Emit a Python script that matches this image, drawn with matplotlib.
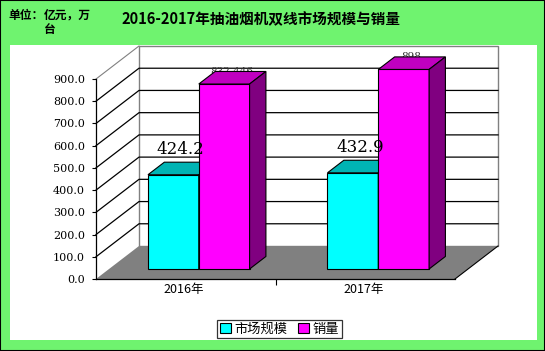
import matplotlib
matplotlib.use("Agg")
import matplotlib.pyplot as plt
from matplotlib.patches import Polygon, Rectangle, Patch

# ── DATA ─────────────────────────────────────────────────────────────────────
years = ["2016年", "2017年"]
market_size = [424.2, 432.9]
sales = [832.446, 898]
series_names = ["市场规模", "销量"]
y_ticks = [0, 100, 200, 300, 400, 500, 600, 700, 800, 900]
title = "2016-2017年抽油烟机双线市场规模与销量"

CJK = ["Noto Sans CJK SC", "DejaVu Sans"]
W, H = 545, 351


def fx(px):
    return px / W


def fy(py):
    return 1 - py / H


fig = plt.figure(figsize=(W / 100, H / 100), dpi=100)
fig.patch.set_facecolor("#6ff36f")
fig.add_artist(Rectangle((fx(10), fy(340)), fx(537) - fx(10), fy(45) - fy(340),
                         transform=fig.transFigure, fc="white", ec="none", zorder=-1))
fig.add_artist(Rectangle((0, 0), 1, 1, transform=fig.transFigure, fill=False,
                         ec="black", lw=1.5, zorder=10))

# front plane of the 3D box
ax = fig.add_axes([fx(96), fy(279), fx(455) - fx(96), fy(79) - fy(279)])
ax.set_xlim(0, 2)
ax.set_ylim(0, 900)
ax.patch.set_visible(False)

# depth offsets (data units), derived from the pixel geometry
px_x = (455 - 96) / 2.0
px_y = 200 / 900.0
DX, DY = 43 / px_x, 33 / px_y
f0 = 10 / 33          # bars start this far back into the box
bx, by = 0.38 * DX, 0.38 * DY
gap, w = 0.217, 0.283

# walls and floor
ax.add_patch(Polygon([(DX, DY), (2 + DX, DY), (2 + DX, 900 + DY), (DX, 900 + DY)],
                     fc="white", ec="#808080", lw=1, clip_on=False, zorder=0.5))
ax.add_patch(Polygon([(0, 0), (2, 0), (2 + DX, DY), (DX, DY)],
                     fc="#808080", ec="none", clip_on=False, zorder=1))
ax.plot([2, 2 + DX], [0, DY], color="black", lw=0.8, clip_on=False, zorder=1.1)
ax.plot([0, DX], [900, 900 + DY], color="#808080", lw=0.8, clip_on=False, zorder=1)
for v in y_ticks[1:-1]:
    ax.plot([0, DX, 2 + DX], [v, v + DY, v + DY], color="black", lw=0.9,
            clip_on=False, zorder=0.8)

# bars with top and side faces
series = [(market_size, "#00ffff", "#00b4b4", "#008080", 3),
          (sales, "#ff00ff", "#c000c0", "#800080", 4)]
for j, (vals, c_front, c_top, c_side, z) in enumerate(series):
    xs = [i + gap + j * w + f0 * DX for i in range(len(vals))]
    base = f0 * DY
    ax.bar(xs, vals, width=w, bottom=base, align="edge", color=c_front,
           edgecolor="black", lw=0.8, clip_on=False, zorder=z)
    for x0, v in zip(xs, vals):
        top = base + v
        ax.add_patch(Polygon([(x0, top), (x0 + w, top), (x0 + w + bx, top + by), (x0 + bx, top + by)],
                             fc=c_top, ec="black", lw=0.8, clip_on=False, zorder=z))
        ax.add_patch(Polygon([(x0 + w, base), (x0 + w + bx, base + by), (x0 + w + bx, top + by), (x0 + w, top)],
                             fc=c_side, ec="black", lw=0.8, clip_on=False, zorder=z))
        cx = x0 + w / 2 + 0.04
        if j == 0:
            ax.text(cx, top + by + 20, f"{v:.1f}", ha="center", va="bottom",
                    family="DejaVu Serif", fontsize=12, zorder=6)
        else:
            # label sits behind the bar, half hidden by its top face
            ax.text(cx, top + by, f"{v:g}", ha="center", va="center",
                    family="DejaVu Serif", fontsize=7.5, color="#333333", zorder=2)

# axes, ticks
for s in ["top", "right"]:
    ax.spines[s].set_visible(False)
ax.spines["left"].set_linewidth(0.9)
ax.spines["bottom"].set_linewidth(0.9)
ax.spines["left"].set_zorder(2)
ax.spines["bottom"].set_zorder(2)
ax.set_yticks(y_ticks)
ax.set_yticklabels([f"{v:.1f}" for v in y_ticks], family="DejaVu Serif", fontsize=8)
ax.tick_params(axis="y", length=3, width=0.8, pad=5)
ax.set_xticks([1])
ax.set_xticklabels([""])
ax.tick_params(axis="x", which="major", length=4, width=0.8)
ax.set_xticks([0.49, 1.49], minor=True)
ax.set_xticklabels(years, minor=True, family=CJK, fontsize=9)
ax.tick_params(axis="x", which="minor", length=0, pad=3)

# titles
fig.text(fx(261), fy(19), title, ha="center", va="center", family=CJK,
         fontsize=10.5, fontweight="bold")
fig.text(fx(8), fy(9), "单位：", ha="left", va="top", family=CJK, fontsize=8.5, fontweight="bold")
fig.text(fx(44), fy(9), "亿元，万\n台", ha="left", va="top", family=CJK, fontsize=8.5,
         fontweight="bold", linespacing=1.05)

handles = [Patch(fc="#00ffff", ec="black", lw=0.8), Patch(fc="#ff00ff", ec="black", lw=0.8)]
leg = fig.legend(handles, series_names, loc="center", bbox_to_anchor=(fx(279.5), fy(329)),
                 prop={"family": CJK, "size": 9.5}, frameon=True, fancybox=False,
                 handlelength=0.8, handleheight=0.8, handletextpad=0.3, columnspacing=0.8,
                 ncol=2, borderpad=0.2, borderaxespad=0)
leg.get_frame().set_edgecolor("black")
leg.get_frame().set_linewidth(0.9)

fig.savefig("out.png", dpi=100, facecolor=fig.get_facecolor())
